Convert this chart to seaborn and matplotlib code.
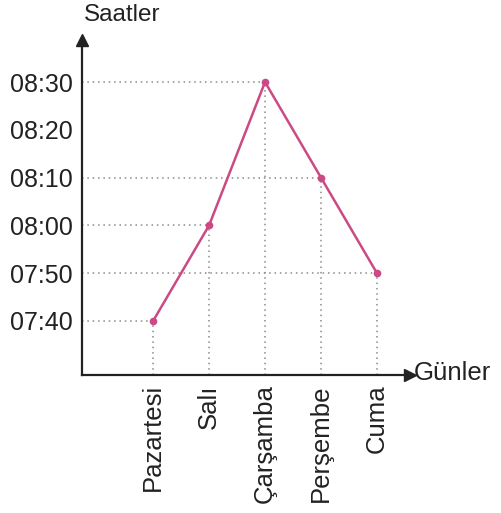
import seaborn as sns
import matplotlib.pyplot as plt
import pandas as pd

# data
gunler = ["Pazartesi", "Salı", "Çarşamba", "Perşembe", "Cuma"]
saatler = ["07:40", "08:00", "08:30", "08:10", "07:50"]
tick_labels = ["07:40", "07:50", "08:00", "08:10", "08:20", "08:30"]


def to_min(s):
    h, m = s.split(":")
    return int(h) * 60 + int(m)


df = pd.DataFrame({"pos": range(len(gunler)),
                   "gun": gunler,
                   "dakika": [to_min(s) for s in saatler]})

sns.set_style("white")
plt.rcParams["font.family"] = ["Liberation Sans", "DejaVu Sans"]

fig = plt.figure(figsize=(5.01, 5.13), dpi=100)
ax = fig.add_axes([82 / 501, 138 / 513, 328 / 501, 335 / 513])

line_color = "#cc4a84"
grid_color = "#8a8a8a"

xmin, xmax = -1.27, 4.59
ymin, ymax = 448.7, 518.8

# dotted guide lines from each point to the axes
for _, r in df.iterrows():
    ax.plot([xmin, r["pos"]], [r["dakika"], r["dakika"]], ls=(0, (1, 2.5)),
            color=grid_color, lw=1.1, zorder=1)
    ax.plot([r["pos"], r["pos"]], [ymin, r["dakika"]], ls=(0, (1, 2.5)),
            color=grid_color, lw=1.1, zorder=1)

sns.lineplot(data=df, x="pos", y="dakika", ax=ax, color=line_color, lw=1.8,
             marker="o", markersize=5.5, markeredgewidth=0, zorder=3)

ax.set_xlim(xmin, xmax)
ax.set_ylim(ymin, ymax)

ax.set_xticks(df["pos"])
ax.set_xticklabels(gunler, rotation=90, fontsize=18.5, color="#222222")
ticks = [to_min(s) for s in tick_labels]
ax.set_yticks(ticks)
ax.set_yticklabels(tick_labels, fontsize=18, color="#222222")
ax.tick_params(direction="inout", length=9, width=1.3, color="#222222", pad=2)

for s in ["top", "right"]:
    ax.spines[s].set_visible(False)
for s in ["left", "bottom"]:
    ax.spines[s].set_linewidth(1.6)
    ax.spines[s].set_color("#222222")

# axis arrows
ax.plot(0, 1, marker="^", color="#222222", markersize=8, transform=ax.transAxes, clip_on=False)
ax.plot(1, 0, marker=">", color="#222222", markersize=8, transform=ax.transAxes, clip_on=False)

ax.set_xlabel("")
ax.set_ylabel("")
fig.text(84 / 501, 1 - 15 / 513, "Saatler", fontsize=17.5, color="#222222", va="center", ha="left")
fig.text(414 / 501, 1 - 373 / 513, "Günler", fontsize=18.5, color="#222222", va="center", ha="left")

plt.savefig("out.png", dpi=100)
